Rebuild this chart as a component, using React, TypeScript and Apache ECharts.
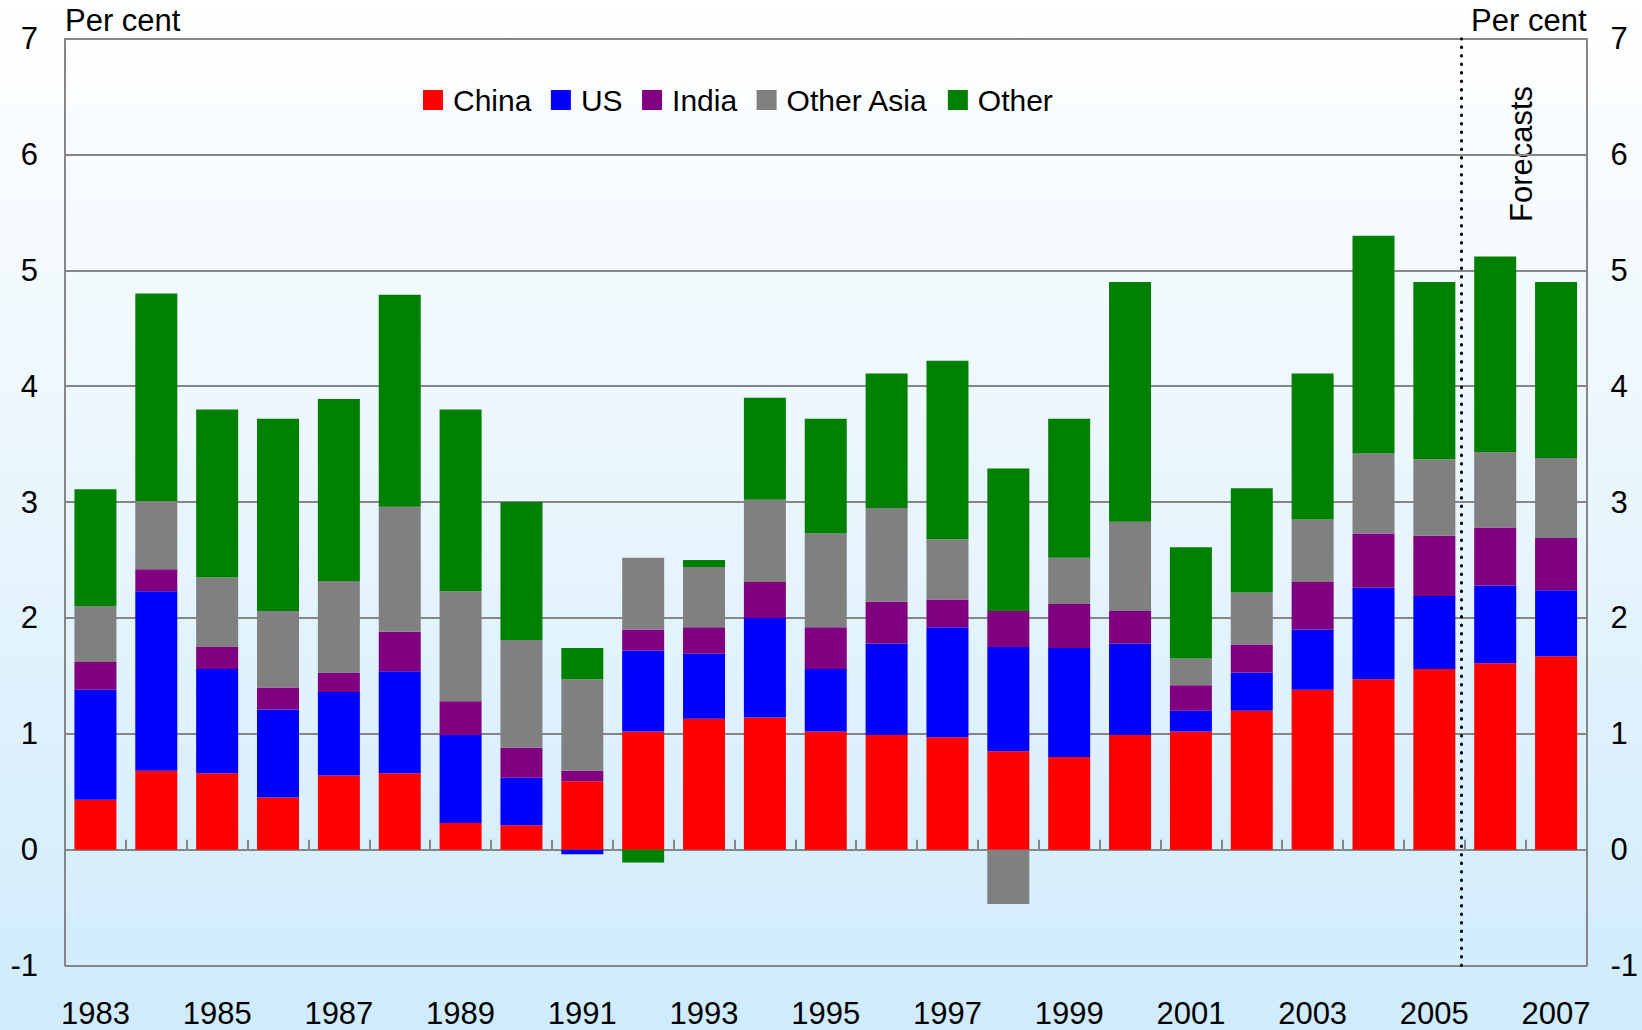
import React, { useEffect, useRef } from 'react';
import * as echarts from 'echarts';

const years = ['1983','1984','1985','1986','1987','1988','1989','1990','1991','1992','1993','1994','1995','1996','1997','1998','1999','2000','2001','2002','2003','2004','2005','2006','2007'];
const china = [0.43,0.68,0.66,0.45,0.64,0.66,0.23,0.21,0.59,1.02,1.13,1.14,1.02,0.99,0.97,0.85,0.80,0.99,1.02,1.20,1.38,1.47,1.56,1.61,1.67];
const us = [0.95,1.55,0.90,0.76,0.72,0.88,0.76,0.41,-0.04,0.70,0.56,0.86,0.54,0.79,0.95,0.90,0.94,0.79,0.18,0.33,0.52,0.79,0.63,0.67,0.57];
const india = [0.24,0.19,0.19,0.19,0.17,0.34,0.29,0.26,0.09,0.18,0.23,0.31,0.36,0.36,0.24,0.31,0.38,0.28,0.22,0.24,0.41,0.47,0.52,0.50,0.45];
const otherAsia = [0.48,0.59,0.60,0.66,0.79,1.08,0.95,0.93,0.79,0.62,0.52,0.71,0.81,0.81,0.52,-0.47,0.40,0.77,0.23,0.45,0.54,0.69,0.66,0.65,0.69];
const other = [1.01,1.79,1.45,1.66,1.57,1.83,1.57,1.19,0.27,-0.11,0.06,0.88,0.99,1.16,1.54,1.23,1.20,2.07,0.96,0.90,1.26,1.88,1.53,1.69,1.52];

const seriesNames = ['China', 'US', 'India', 'Other Asia', 'Other'];
const seriesColors = ['#ff0000', '#0000ff', '#800080', '#808080', '#008000'];
const seriesData = [china, us, india, otherAsia, other];
const forecastStart = 22.95; // boundary position between 2005 and 2006 (in category units)

const FONT = 'Liberation Sans, Arial, sans-serif';
const FS = 31;
const GRAY = '#868686';

export default function App() {
  const ref = useRef<HTMLDivElement>(null);
  useEffect(() => {
    document.body.style.margin = '0';
    const chart = echarts.init(ref.current!, null, { renderer: 'svg', width: 1642, height: 1030 });
    const option: any = {
      animation: false,
      backgroundColor: 'transparent',
      textStyle: { fontFamily: FONT },
      grid: { left: 65, right: 55.5, top: 38.7, bottom: 64.5, containLabel: false, outerBoundsMode: 'none' },
      legend: {
        data: seriesNames,
        left: 418,
        top: 80,
        itemWidth: 20,
        itemHeight: 20,
        itemGap: 19.5,
        icon: 'rect',
        textStyle: { fontSize: 30, fontFamily: FONT, color: '#000', padding: [0, 0, 0, 5] },
      },
      xAxis: [
        {
          type: 'category',
          data: years,
          position: 'bottom',
          axisLine: { show: false, onZero: false },
          axisTick: { show: false },
          splitLine: { show: false },
          axisLabel: { interval: 1, fontSize: FS, fontFamily: FONT, color: '#000', margin: 32 },
        },
        {
          type: 'category',
          data: years,
          position: 'bottom',
          axisLine: { show: true, onZero: true, onZeroAxisIndex: 0, lineStyle: { color: GRAY, width: 2 } },
          axisTick: { show: true, inside: true, length: 10, interval: 0, lineStyle: { color: GRAY, width: 2 } },
          axisLabel: { show: false },
          splitLine: { show: false },
        },
        {
          type: 'value',
          min: 0,
          max: 25,
          show: false,
          axisLine: { onZero: false },
        },
      ],
      yAxis: [
        {
          type: 'value',
          position: 'left',
          min: -1,
          max: 7,
          interval: 1,
          name: 'Per cent',
          nameLocation: 'end',
          nameGap: 3,
          nameTextStyle: { fontSize: FS, fontFamily: FONT, color: '#000', align: 'left' },
          axisLine: { show: true, onZero: false, lineStyle: { color: GRAY, width: 2 } },
          axisTick: { show: false },
          splitLine: { show: true, lineStyle: { color: GRAY, width: 2 } },
          axisLabel: { fontSize: FS, fontFamily: FONT, color: '#000', margin: 27 },
        },
        {
          type: 'value',
          position: 'right',
          min: -1,
          max: 7,
          interval: 1,
          name: 'Per cent',
          nameLocation: 'end',
          nameGap: 3,
          nameTextStyle: { fontSize: FS, fontFamily: FONT, color: '#000', align: 'right' },
          axisLine: { show: true, onZero: false, lineStyle: { color: GRAY, width: 2 } },
          axisTick: { show: false },
          splitLine: { show: false },
          axisLabel: { fontSize: FS, fontFamily: FONT, color: '#000', margin: 24 },
        },
      ],
      series: [
        ...seriesNames.map((name, i) => ({
          name,
          type: 'bar',
          stack: 'total',
          xAxisIndex: 0,
          yAxisIndex: 0,
          barCategoryGap: '31%',
          itemStyle: { color: seriesColors[i] },
          data: seriesData[i],
        })),
        {
          name: 'forecastLine',
          type: 'line',
          xAxisIndex: 2,
          yAxisIndex: 0,
          data: [],
          silent: true,
          markLine: {
            silent: true,
            symbol: ['none', 'none'],
            label: { show: false },
            lineStyle: { color: '#000', width: 3, type: [0.5, 8], cap: 'round' },
            data: [{ xAxis: forecastStart }],
          },
        },
      ],
      graphic: [
        {
          type: 'text',
          x: 1521.6,
          y: 154,
          rotation: Math.PI / 2,
          style: {
            text: 'Forecasts',
            fontSize: FS,
            fontFamily: FONT,
            fill: '#000',
            align: 'center',
            verticalAlign: 'middle',
          },
        },
      ],
    };
    chart.setOption(option);
    return () => chart.dispose();
  }, []);
  return (
    <div
      ref={ref}
      style={{
        position: 'absolute',
        left: 0,
        top: 0,
        width: 1642,
        height: 1030,
        background: 'linear-gradient(180deg, #ffffff 0%, #e8f5fd 50%, #cfebfc 100%)',
      }}
    />
  );
}
